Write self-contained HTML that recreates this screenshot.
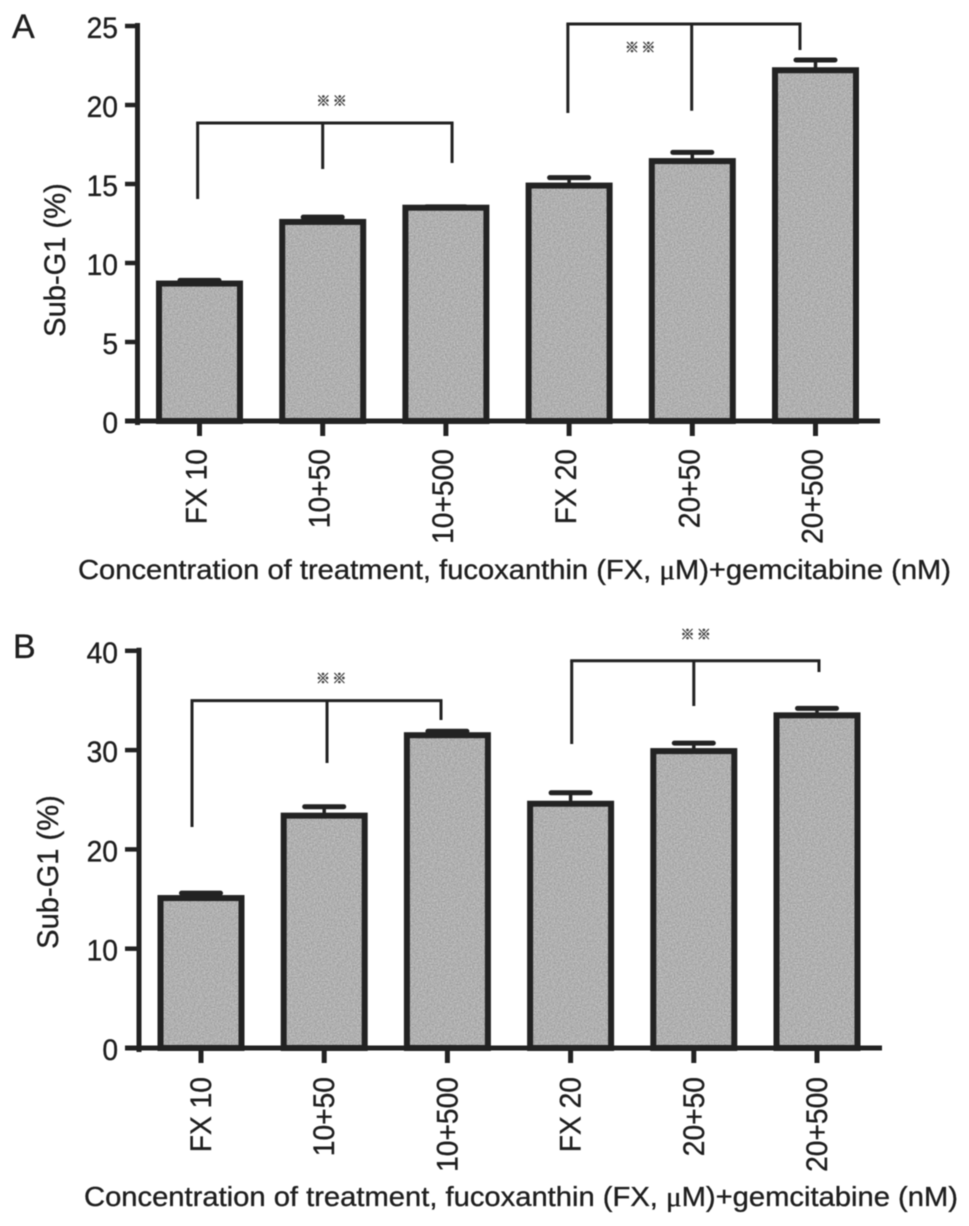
<!DOCTYPE html>
<html lang="en">
<head>
<meta charset="utf-8">
<title>Sub-G1 percentage by treatment concentration</title>
<style>
html,body{margin:0;padding:0;background:#fff;width:969px;height:1226px;overflow:hidden}
svg{display:block;filter:blur(.45px)}
text{font-family:"Liberation Sans",sans-serif;fill:#1e1e1e;stroke:#1e1e1e;stroke-width:.35px}
</style>
</head>
<body>
<svg id="figure" xmlns="http://www.w3.org/2000/svg" width="969" height="1226" viewBox="0 0 969 1226">
<defs>
<filter id="bar-grain" x="0" y="0" width="100%" height="100%" color-interpolation-filters="sRGB">
<feTurbulence type="fractalNoise" baseFrequency="0.7" numOctaves="2" seed="4" result="n"/>
<feColorMatrix in="n" type="matrix" values="0.3 0 0 0 0.54  0.3 0 0 0 0.54  0.3 0 0 0 0.54  0 0 0 0 1" result="g"/>
<feComposite in="g" in2="SourceGraphic" operator="in"/>
</filter>
</defs>
</svg>
<script>
const categories = ['FX 10', '10+50', '10+500', 'FX 20', '20+50', '20+500'];
const xAxisTitle = 'Concentration of treatment, fucoxanthin (FX, ';
const xAxisTitleEnd = 'M)+gemcitabine (nM)';
const yAxisTitle = 'Sub-G1 (%)';

const valuesA = [8.7, 12.6, 13.5, 14.9, 16.45, 22.2];
const errorsA = [0.2, 0.3, 0.05, 0.5, 0.55, 0.65];
const ticksA = [0, 5, 10, 15, 20, 25];
const valuesB = [15.1, 23.4, 31.5, 24.6, 29.9, 33.5];
const errorsB = [0.5, 0.9, 0.4, 1.1, 0.8, 0.7];
const ticksB = [0, 10, 20, 30, 40];

/* significance brackets: category position of each leg, value of the top rail and of each leg end */
const bracketLegsA = [[-0.015, 1, 2.05], [2.99, 3.995, 4.874]];
const bracketEndsA = [[14.05, 15.95, 16.33], [19.49, 19.64, 23.48]];
const bracketLevelsA = [18.86, 25.13];
const starCatsA = [1.07, 3.575];
const starValuesA = [20.3, 23.67];
const bracketLegsB = [[-0.073, 1.023, 1.948], [3.009, 4.0, 5.016]];
const bracketEndsB = [[22.26, 28.7, 33.03], [30.61, 34.44, 37.86]];
const bracketLevelsB = [34.98, 39.0];
const starCatsB = [1.055, 4.014];
const starValuesB = [37.26, 41.69];

const svg = document.getElementById('figure');
const NS = 'http://www.w3.org/2000/svg';
const INK = '#222';

function mk(tag, attrs, parent, text) {
  const el = document.createElementNS(NS, tag);
  for (const k in attrs) el.setAttribute(k, attrs[k]);
  if (text !== undefined) el.textContent = text;
  parent.appendChild(el);
  return el;
}

/* the reference type is slightly condensed: keep the height, narrow the run */
function condense(el, factor) {
  el.setAttribute('textLength', el.getComputedTextLength() * factor);
  el.setAttribute('lengthAdjust', 'spacingAndGlyphs');
}

function drawPanel(p) {
  const yOf = v => p.y0 - v * p.pxPerUnit;
  const xOf = i => p.x0 + i * p.step;
  const g = mk('g', {}, svg);
  
  

  const letter = mk('text', {x: p.letterX, y: p.letterY, 'font-size': 34}, g, p.letter);
  
  

  p.values.forEach((v, i) => {
    const cx = xOf(i), top = yOf(v), capY = yOf(v + p.errors[i]);
    const fill = mk('rect', {x: cx - 38, y: top, width: 76, height: p.y0 - top, fill: '#aaa', filter: 'url(#bar-grain)'}, g);
    
    
    const stem = mk('line', {x1: cx, x2: cx, y1: top, y2: capY, stroke: INK, 'stroke-width': 3.5}, g);
    
    
    const cap = mk('line', {x1: cx - 19.5, x2: cx + 19.5, y1: capY, y2: capY, stroke: INK, 'stroke-width': 5, 'stroke-linecap': 'round'}, g);
    
    
    const bar = mk('rect', {x: cx - 40.5, y: top, width: 81, height: p.y0 - top, fill: 'none', stroke: INK, 'stroke-width': 6}, g);
    
    

    const tick = mk('line', {x1: cx, x2: cx, y1: p.y0, y2: p.y0 + 15, stroke: INK, 'stroke-width': 5}, g);
    
    
    const lx = cx + p.catLabelDx;
    const label = mk('text', {x: lx, y: p.catLabelY, 'font-size': 30, 'text-anchor': 'end', transform: 'rotate(-90 ' + lx + ' ' + p.catLabelY + ')'}, g, categories[i]);
    
    
    condense(label, 0.94);
  });

  const topY = yOf(p.ticks[p.ticks.length - 1]);
  const yAxis = mk('line', {x1: p.axisX, x2: p.axisX, y1: topY - 3, y2: p.y0 + 4, stroke: INK, 'stroke-width': 5}, g);
  
  
  const xAxis = mk('line', {x1: 125, x2: p.axisEnd, y1: p.y0, y2: p.y0, stroke: INK, 'stroke-width': 5}, g);
  
  

  p.ticks.forEach(t => {
    const y = yOf(t);
    const tick = mk('line', {x1: 125, x2: p.axisX, y1: y, y2: y, stroke: INK, 'stroke-width': 4.5}, g);
    
    
    const label = mk('text', {x: 118, y: y + 12, 'font-size': 30, 'text-anchor': 'end'}, g, String(t));
    
    
    condense(label, 0.94);
  });

  const yt = mk('text', {x: p.yTitleX, y: p.yTitleY, 'font-size': 30, 'text-anchor': 'middle', transform: 'rotate(-90 ' + p.yTitleX + ' ' + p.yTitleY + ')'}, g, yAxisTitle);
  
  
  condense(yt, 0.97);

  const xt = mk('text', {x: p.xTitleX, y: p.xTitleY, 'font-size': 28, textLength: p.xTitleW, lengthAdjust: 'spacingAndGlyphs'}, g);
  
  
  mk('tspan', {}, xt, xAxisTitle);
  mk('tspan', {style: 'font-family:"Liberation Serif",serif'}, xt, '\u03BC');
  mk('tspan', {}, xt, xAxisTitleEnd);

  p.legs.forEach((legs, b) => {
    const level = yOf(p.levels[b]);
    const rail = mk('line', {x1: xOf(legs[0]) - 1.5, x2: xOf(legs[2]) + 1.5, y1: level, y2: level, stroke: INK, 'stroke-width': 3}, g);
    
    
    legs.forEach((c, j) => {
      const leg = mk('line', {x1: xOf(c), x2: xOf(c), y1: level, y2: yOf(p.ends[b][j]), stroke: INK, 'stroke-width': 3}, g);
      
      
    });
    const star = mk('text', {x: xOf(p.starCats[b]) - 15, y: yOf(p.starValues[b]) + 5.5, 'font-size': 14, 'font-weight': 700, 'letter-spacing': 2.4, style: 'font-family:"Noto Sans CJK JP",sans-serif;fill:#444;stroke:#444;stroke-width:.6px'}, g, '\u203B\u203B');
    
    
  });
}

drawPanel({
  id: 'panel-a', letter: 'A', letterX: 12, letterY: 38,
  values: valuesA, errors: errorsA, ticks: ticksA,
  legs: bracketLegsA, ends: bracketEndsA, levels: bracketLevelsA, starCats: starCatsA, starValues: starValuesA,
  y0: 421, pxPerUnit: 15.8, x0: 199.5, step: 123.2, axisX: 137.5, axisEnd: 880,
  catLabelDx: 7, catLabelY: 449,
  yTitleX: 65, yTitleY: 260, xTitleX: 78, xTitleY: 579, xTitleW: 873
});
drawPanel({
  id: 'panel-b', letter: 'B', letterX: 13, letterY: 658,
  values: valuesB, errors: errorsB, ticks: ticksB,
  legs: bracketLegsB, ends: bracketEndsB, levels: bracketLevelsB, starCats: starCatsB, starValues: starValuesB,
  y0: 1048, pxPerUnit: 9.93, x0: 201, step: 123.2, axisX: 139, axisEnd: 882,
  catLabelDx: 10, catLabelY: 1077,
  yTitleX: 58, yTitleY: 872, xTitleX: 84, xTitleY: 1206, xTitleW: 874
});
</script>
</body>
</html>
